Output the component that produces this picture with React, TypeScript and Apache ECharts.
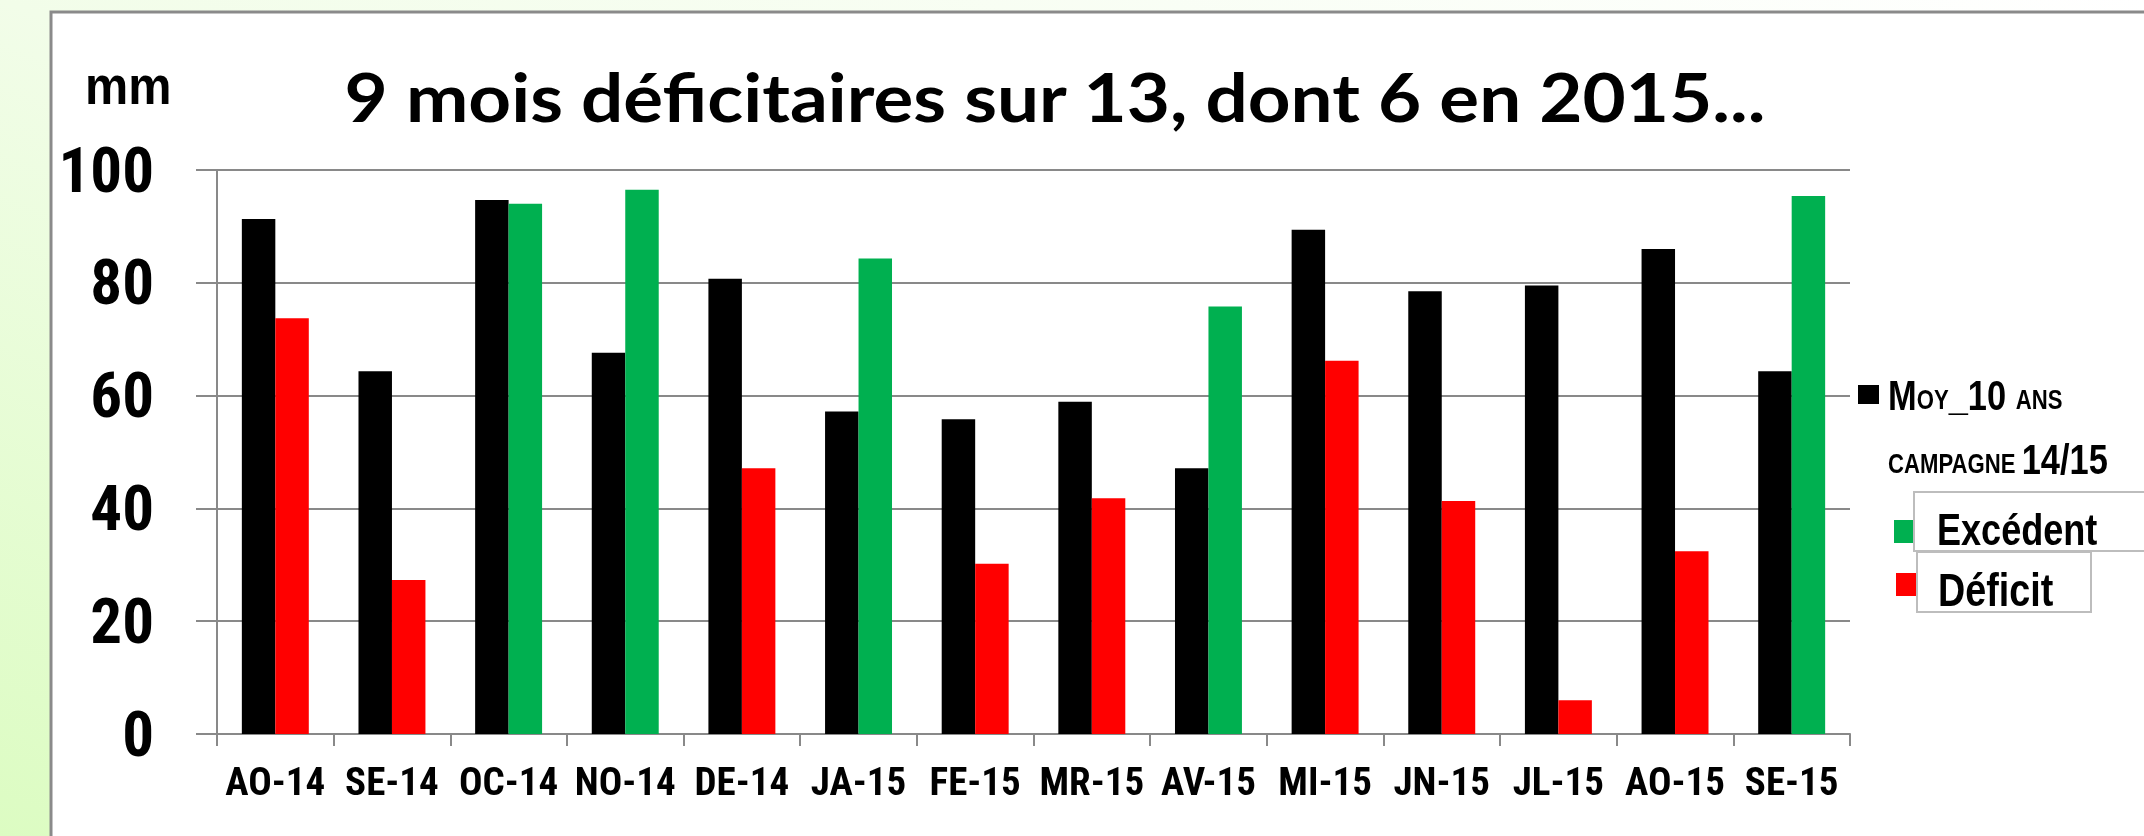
import React, { useEffect, useRef } from "react";
import * as echarts from "echarts";

const categories = ["AO-14", "SE-14", "OC-14", "NO-14", "DE-14", "JA-15", "FE-15", "MR-15", "AV-15", "MI-15", "JN-15", "JL-15", "AO-15", "SE-15"];
const moy10 = [91.3, 64.3, 94.7, 67.6, 80.7, 57.2, 55.8, 58.9, 47.1, 89.4, 78.5, 79.5, 86.0, 64.3];
const campagne = [73.7, 27.3, 94.0, 96.5, 47.1, 84.3, 30.2, 41.8, 75.8, 66.2, 41.3, 6.0, 32.4, 95.4];
// E = excédent, D = déficit
const statut = ["D", "D", "E", "E", "D", "E", "D", "D", "E", "D", "D", "D", "D", "E"];
const yTicks = { min: 0, max: 100, interval: 20 };

const AXISFONT = "'Roboto Condensed', 'Liberation Sans Narrow', Roboto, sans-serif";
const SANS = "'Liberation Sans', Arial, sans-serif";
const NARROW_SCALE = 0.82;
const GREEN = "#00b050";
const RED = "#ff0000";
const GRID = "#898989";

export default function App() {
  const ref = useRef<HTMLDivElement>(null);
  useEffect(() => {
    if (!ref.current) return;
    const chart = echarts.init(ref.current, null, { renderer: "svg" });
    const rich = {
      a: { fontFamily: SANS, fontWeight: "bold", fontSize: 42, lineHeight: 44, verticalAlign: "bottom", fill: "#000" },
      b: { fontFamily: SANS, fontWeight: "bold", fontSize: 27, lineHeight: 44, verticalAlign: "bottom", padding: [0, 0, 3, 0], fill: "#000" },
    };
    const option: any = {
      animation: false,
      backgroundColor: "transparent",
      grid: { left: 217, top: 170, width: 1633, height: 564, containLabel: false },
      xAxis: {
        type: "category",
        data: categories,
        axisLine: { lineStyle: { color: GRID, width: 2 } },
        axisTick: { show: true, length: 12, lineStyle: { color: GRID, width: 2 } },
        axisLabel: { color: "#000", fontFamily: AXISFONT, fontWeight: "bold", fontSize: 39, margin: 28, interval: 0 },
      },
      yAxis: {
        type: "value",
        min: yTicks.min,
        max: yTicks.max,
        interval: yTicks.interval,
        axisLine: { show: true, lineStyle: { color: GRID, width: 2 } },
        axisTick: { show: true, length: 21, lineStyle: { color: GRID, width: 2 } },
        splitLine: { lineStyle: { color: GRID, width: 2 } },
        axisLabel: { color: "#000", fontFamily: AXISFONT, fontWeight: "bold", fontSize: 63, margin: 63 },
      },
      series: [
        {
          name: "Moy_10 ans",
          type: "bar",
          data: moy10,
          barGap: "0%",
          barCategoryGap: "42.6%",
          itemStyle: { color: "#000" },
        },
        {
          name: "Campagne 14/15",
          type: "bar",
          data: campagne.map((v, i) => ({ value: v, itemStyle: { color: statut[i] === "E" ? GREEN : RED } })),
          barGap: "0%",
          barCategoryGap: "42.6%",
        },
      ],
      graphic: [
        {
          type: "rect",
          z: -10,
          silent: true,
          shape: { x: 0, y: 0, width: 2144, height: 836 },
          style: {
            fill: new echarts.graphic.LinearGradient(0, 1, 1, 0, [
              { offset: 0, color: "#dcfcc2" },
              { offset: 0.5, color: "#f2fde9" },
              { offset: 1, color: "#ffffff" },
            ]),
          },
        },
        {
          type: "rect",
          z: -9,
          silent: true,
          shape: { x: 51, y: 12, width: 2200, height: 900 },
          style: { fill: "#ffffff", stroke: "#8a8a8a", lineWidth: 3 },
        },
        {
          type: "text",
          x: 1055,
          y: 96,
          scaleX: 1.13,
          style: {
            text: "9 mois déficitaires sur 13, dont 6 en 2015...",
            fontFamily: "Lato, 'Open Sans', sans-serif",
            fontWeight: "bold",
            fontSize: 66,
            fill: "#000",
            align: "center",
            verticalAlign: "middle",
          },
        },
        {
          type: "text",
          x: 85,
          y: 85,
          scaleX: 0.9,
          style: {
            text: "mm",
            fontFamily: SANS,
            fontWeight: "bold",
            fontSize: 54,
            fill: "#000",
            align: "left",
            verticalAlign: "middle",
          },
        },
        { type: "rect", shape: { x: 1858, y: 385, width: 21, height: 19 }, style: { fill: "#000" } },
        {
          type: "text",
          x: 1888,
          y: 394,
          scaleX: NARROW_SCALE,
          style: { text: "{a|M}{b|OY}{a|_10 }{b|ANS}", align: "left", verticalAlign: "middle", rich },
        },
        {
          type: "text",
          x: 1888,
          y: 458,
          scaleX: NARROW_SCALE,
          style: { text: "{b|CAMPAGNE }{a|14/15}", align: "left", verticalAlign: "middle", rich },
        },
        { type: "rect", shape: { x: 1894, y: 520, width: 20, height: 23 }, style: { fill: GREEN } },
        {
          type: "rect",
          shape: { x: 1914, y: 492, width: 260, height: 59 },
          style: { fill: "#fff", stroke: "#bdbdbd", lineWidth: 2 },
        },
        {
          type: "text",
          x: 1937,
          y: 530,
          scaleX: NARROW_SCALE,
          style: {
            text: "Excédent",
            fontFamily: SANS,
            fontWeight: "bold",
            fontSize: 44,
            fill: "#000",
            align: "left",
            verticalAlign: "middle",
          },
        },
        { type: "rect", shape: { x: 1896, y: 573, width: 22, height: 23 }, style: { fill: RED } },
        {
          type: "rect",
          shape: { x: 1917, y: 552, width: 174, height: 60 },
          style: { fill: "#fff", stroke: "#bdbdbd", lineWidth: 2 },
        },
        {
          type: "text",
          x: 1938,
          y: 590,
          scaleX: NARROW_SCALE,
          style: {
            text: "Déficit",
            fontFamily: SANS,
            fontWeight: "bold",
            fontSize: 46,
            fill: "#000",
            align: "left",
            verticalAlign: "middle",
          },
        },
      ],
    };
    chart.setOption(option);
    return () => chart.dispose();
  }, []);
  return (
    <div style={{ position: "fixed", left: 0, top: 0, width: 2144, height: 836, overflow: "hidden" }}>
      <div ref={ref} style={{ width: 2144, height: 836 }} />
    </div>
  );
}
